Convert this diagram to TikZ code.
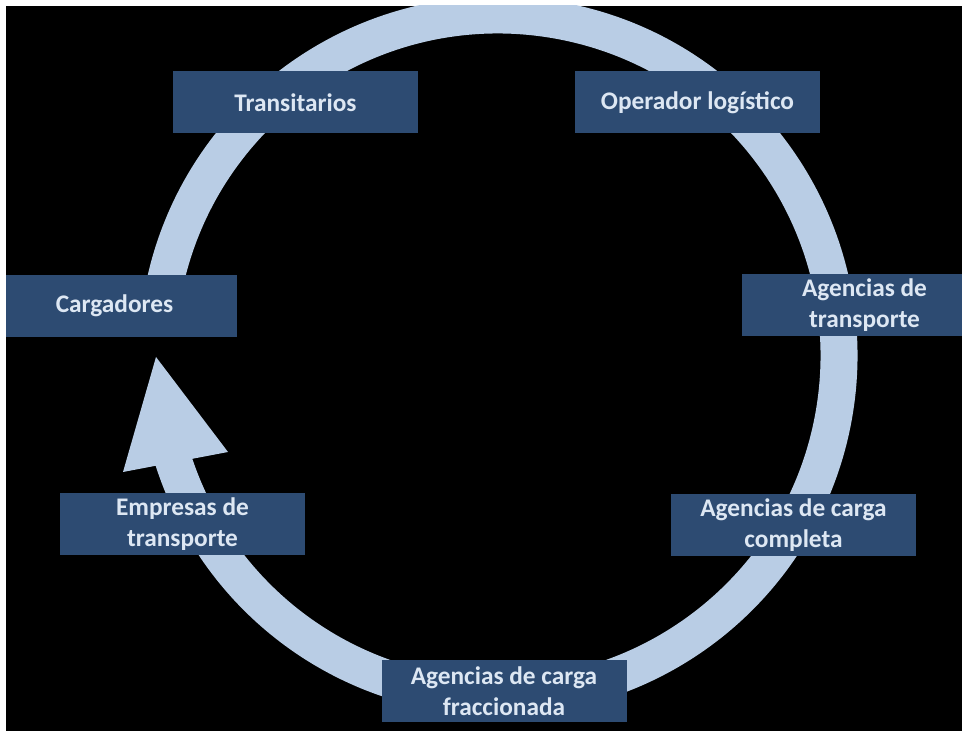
\documentclass[tikz,border=0pt]{standalone}
\usepackage{fontspec}
\setmainfont{Carlito}
\definecolor{ringblue}{HTML}{B9CDE5}
\definecolor{boxblue}{HTML}{2D4B72}
\definecolor{txtblue}{HTML}{DDE7F3}
\begin{document}
\begin{tikzpicture}[x=0.75pt,y=0.75pt,
  box/.style={fill=boxblue, text=txtblue, font=\fontsize{19}{23}\selectfont\bfseries,
    minimum width=183.75pt, minimum height=46.5pt, align=center, inner sep=0pt}]
\useasboundingbox (0,0) rectangle (962,731);
\fill[white] (0,0) rectangle (962,731);
\fill[black] (6,0) rectangle (962,725);
\begin{scope}
\clip (6,0) rectangle (962,725);
\coordinate (c) at (498,375);
\draw[ringblue, line width=27.75pt] (c) ++(170.6:255.75pt) arc[start angle=170.6, end angle=-163, radius=255.75pt];
\fill[ringblue] (156,374) -- (123,259) -- (228,279) -- cycle;
\node[box] (trans) at (295.5,628.5) {Transitarios};
\node[box] (oper) at (697.5,628.5) {Operador logístico};
\node[box] (carg) at (114.5,425) {Cargadores};
\node[box] (agtr) at (864.5,426) {Agencias de\\transporte};
\node[box] (empr) at (182.5,207) {Empresas de\\transporte};
\node[box] (agcc) at (793.5,206) {Agencias de carga\\completa};
\node[box] (agcf) at (504,40) {Agencias de carga\\fraccionada};
\end{scope}
\end{tikzpicture}
\end{document}
